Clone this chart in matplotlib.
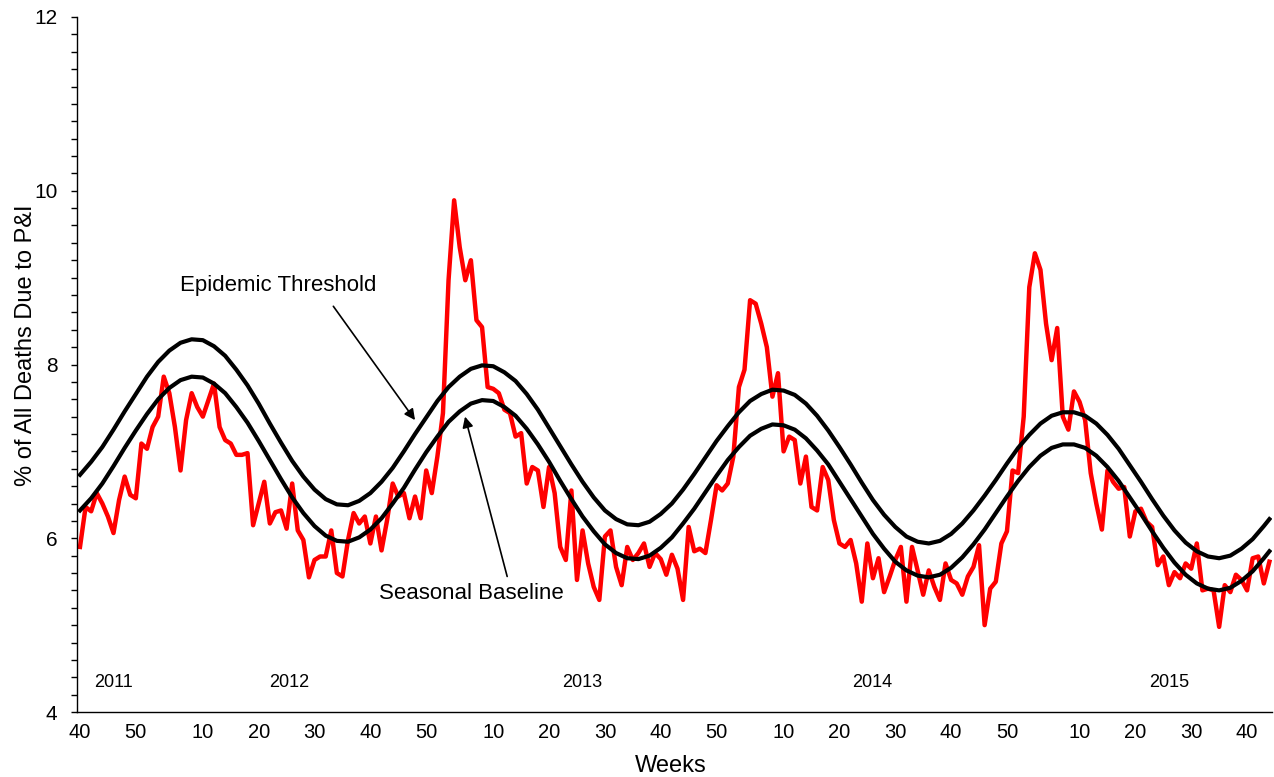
import numpy as np
import matplotlib.pyplot as plt
from matplotlib.ticker import MultipleLocator

plt.rcParams['font.family'] = ['Liberation Sans', 'DejaVu Sans']


# MMWR weeks shown: 2011 wk40 -> 2015 wk44
years = [2011, 2012, 2013, 2014, 2015]
year_weeks = [list(range(40, 53)), list(range(1, 53)), list(range(1, 53)),
              list(range(1, 54)), list(range(1, 45))]

# weekly % of all deaths due to pneumonia & influenza
pi_pct = [
    5.90, 6.36, 6.31, 6.52, 6.40, 6.25, 6.06, 6.44, 6.71, 6.50,
    6.46, 7.09, 7.03, 7.28, 7.40, 7.86, 7.67, 7.28, 6.78, 7.36,
    7.67, 7.51, 7.40, 7.59, 7.78, 7.28, 7.13, 7.09, 6.96, 6.96,
    6.98, 6.15, 6.40, 6.65, 6.17, 6.30, 6.32, 6.11, 6.63, 6.09,
    5.98, 5.55, 5.75, 5.79, 5.79, 6.09, 5.60, 5.56, 5.98, 6.29,
    6.17, 6.25, 5.94, 6.25, 5.86, 6.21, 6.63, 6.48, 6.52, 6.23,
    6.48, 6.23, 6.78, 6.52, 6.94, 7.44, 8.97, 9.89, 9.35, 8.97,
    9.20, 8.51, 8.43, 7.74, 7.72, 7.67, 7.48, 7.44, 7.17, 7.21,
    6.63, 6.82, 6.78, 6.36, 6.82, 6.52, 5.90, 5.75, 6.55, 5.52,
    6.09, 5.71, 5.44, 5.29, 6.02, 6.09, 5.67, 5.46, 5.90, 5.75,
    5.83, 5.94, 5.67, 5.83, 5.76, 5.58, 5.81, 5.65, 5.29, 6.13,
    5.85, 5.88, 5.83, 6.21, 6.61, 6.55, 6.63, 6.94, 7.74, 7.94,
    8.74, 8.70, 8.47, 8.20, 7.63, 7.90, 7.00, 7.17, 7.13, 6.63,
    6.94, 6.36, 6.32, 6.82, 6.67, 6.21, 5.94, 5.90, 5.98, 5.71,
    5.27, 5.94, 5.54, 5.77, 5.38, 5.56, 5.75, 5.90, 5.27, 5.90,
    5.63, 5.35, 5.63, 5.44, 5.29, 5.71, 5.52, 5.48, 5.35, 5.56,
    5.67, 5.92, 5.00, 5.42, 5.50, 5.94, 6.08, 6.78, 6.75, 7.40,
    8.89, 9.28, 9.09, 8.47, 8.05, 8.42, 7.40, 7.25, 7.69, 7.57,
    7.36, 6.75, 6.40, 6.10, 6.78, 6.65, 6.57, 6.59, 6.02, 6.31,
    6.34, 6.19, 6.13, 5.69, 5.79, 5.46, 5.61, 5.54, 5.71, 5.65,
    5.94, 5.40, 5.42, 5.40, 4.98, 5.46, 5.38, 5.58, 5.52, 5.40,
    5.77, 5.79, 5.48, 5.73,
]

# baseline / threshold read every second week (week index from 2011 wk40)
curve_idx = list(range(0, 213, 2)) + [213]

seasonal_baseline = [
    6.32, 6.46, 6.63, 6.83, 7.04, 7.24, 7.43, 7.60, 7.73, 7.82,
    7.86, 7.85, 7.78, 7.67, 7.51, 7.33, 7.12, 6.90, 6.68, 6.47,
    6.29, 6.14, 6.03, 5.97, 5.96, 6.01, 6.10, 6.23, 6.40, 6.58,
    6.79, 6.99, 7.17, 7.34, 7.46, 7.55, 7.59, 7.58, 7.51, 7.41,
    7.26, 7.08, 6.88, 6.66, 6.45, 6.25, 6.08, 5.93, 5.83, 5.77,
    5.76, 5.80, 5.89, 6.01, 6.17, 6.34, 6.53, 6.72, 6.90, 7.05,
    7.18, 7.26, 7.31, 7.30, 7.25, 7.15, 7.01, 6.85, 6.65, 6.45,
    6.25, 6.05, 5.88, 5.73, 5.63, 5.57, 5.55, 5.58, 5.66, 5.78,
    5.93, 6.10, 6.29, 6.48, 6.66, 6.82, 6.95, 7.04, 7.08, 7.08,
    7.04, 6.95, 6.82, 6.66, 6.47, 6.28, 6.08, 5.89, 5.72, 5.58,
    5.48, 5.42, 5.40, 5.43, 5.51, 5.62, 5.77, 5.85,
]

epidemic_threshold = [
    6.73, 6.88, 7.05, 7.25, 7.46, 7.66, 7.86, 8.03, 8.16, 8.25,
    8.29, 8.28, 8.21, 8.10, 7.94, 7.76, 7.55, 7.32, 7.10, 6.89,
    6.71, 6.56, 6.45, 6.39, 6.38, 6.43, 6.52, 6.65, 6.81, 7.00,
    7.20, 7.39, 7.58, 7.74, 7.86, 7.95, 7.99, 7.98, 7.91, 7.81,
    7.66, 7.48, 7.27, 7.06, 6.85, 6.65, 6.47, 6.32, 6.22, 6.16,
    6.15, 6.19, 6.28, 6.40, 6.56, 6.74, 6.93, 7.12, 7.29, 7.45,
    7.58, 7.66, 7.71, 7.70, 7.65, 7.55, 7.41, 7.24, 7.05, 6.85,
    6.64, 6.44, 6.27, 6.13, 6.02, 5.96, 5.94, 5.97, 6.05, 6.17,
    6.32, 6.49, 6.67, 6.86, 7.04, 7.19, 7.32, 7.41, 7.45, 7.45,
    7.41, 7.32, 7.19, 7.03, 6.84, 6.65, 6.45, 6.26, 6.09, 5.95,
    5.85, 5.79, 5.77, 5.80, 5.88, 5.99, 6.14, 6.22,
]


week_nums = [w for wk in year_weeks for w in wk]
x = np.arange(len(week_nums))
tick_pos = [i for i, w in enumerate(week_nums) if w % 10 == 0]
tick_lab = [str(week_nums[i]) for i in tick_pos]

fig = plt.figure(figsize=(12.74, 7.77), dpi=100)
ax = fig.add_axes([77.2 / 1274, 65 / 777, 1195 / 1274, 695 / 777])

ax.plot(x, pi_pct, color='#ff0000', lw=3.2, solid_joinstyle='round', zorder=2)
ax.plot(curve_idx, seasonal_baseline, color='black', lw=3.0, zorder=3)
ax.plot(curve_idx, epidemic_threshold, color='black', lw=3.0, zorder=3)

ax.set_xlim(-0.5, len(x) - 0.5)
ax.set_ylim(4, 12)
ax.yaxis.set_major_locator(MultipleLocator(2))
ax.yaxis.set_minor_locator(MultipleLocator(0.2))
ax.tick_params(axis='y', which='both', direction='out', length=4.3, width=1,
               labelsize=15, pad=10)
ax.set_xticks(tick_pos)
ax.set_xticklabels(tick_lab)
ax.tick_params(axis='x', length=0, labelsize=14.5, pad=8)

for s in ['top', 'right']:
    ax.spines[s].set_visible(False)
for s in ['left', 'bottom']:
    ax.spines[s].set_linewidth(1.0)

ax.set_xlabel('Weeks', fontsize=17)
ax.xaxis.set_label_coords(0.497, -0.062)
ax.set_ylabel('% of All Deaths Due to P&I', fontsize=17)
ax.yaxis.set_label_coords(-0.034, 0.528)

# year markers along the bottom
year_x = [5.97, 37.55, 90.0, 141.8, 195.0]
for yr, xp in zip(years, year_x):
    ax.text(xp, 4.34, str(yr), ha='center', va='center', fontsize=13)

# annotations
ax.text(35.5, 8.91, 'Epidemic Threshold', ha='center', va='center', fontsize=16)
ax.annotate('', xy=(60.0, 7.36), xytext=(45.37, 8.67),
            arrowprops=dict(arrowstyle='-|>', color='black', lw=1.2,
                            mutation_scale=16, shrinkA=0, shrinkB=0))
ax.text(70.0, 5.36, 'Seasonal Baseline', ha='center', va='center', fontsize=16)
ax.annotate('', xy=(68.95, 7.40), xytext=(76.5, 5.56),
            arrowprops=dict(arrowstyle='-|>', color='black', lw=1.2,
                            mutation_scale=16, shrinkA=0, shrinkB=0))

fig.savefig('out.png', dpi=100)
